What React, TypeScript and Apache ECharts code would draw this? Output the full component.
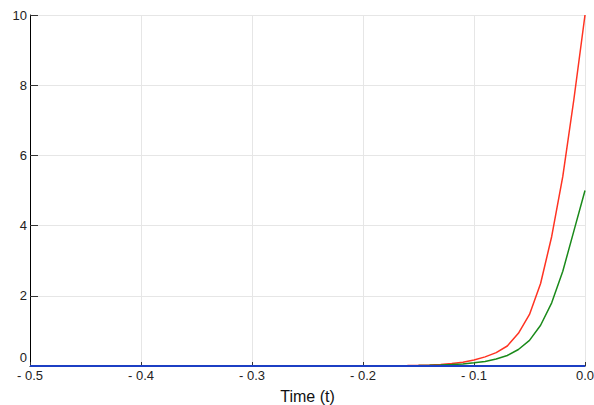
import React, { useEffect, useRef } from "react";
import * as echarts from "echarts";

const tValues: number[] = [
  -0.5, -0.49, -0.48, -0.47, -0.46, -0.45, -0.44, -0.43, -0.42, -0.41,
  -0.4, -0.39, -0.38, -0.37, -0.36, -0.35, -0.34, -0.33, -0.32, -0.31,
  -0.3, -0.29, -0.28, -0.27, -0.26, -0.25, -0.24, -0.23, -0.22, -0.21,
  -0.2, -0.19, -0.18, -0.17, -0.16, -0.15, -0.14, -0.13, -0.12, -0.11,
  -0.1, -0.09, -0.08, -0.07, -0.06, -0.05, -0.04, -0.03, -0.02, -0.01, 0,
];

const redValues: number[] = [
  0, 0, 0, 0, 0, 0, 0, 0, 0, 0,
  0, 0, 0, 0, 0, 0, 0, 0, 0, 0,
  0, 0, 0, 0, 0, 0, 0, 0, 0, 0,
  0.003, 0.004, 0.006, 0.009, 0.014, 0.02, 0.03, 0.045, 0.07, 0.11,
  0.17, 0.26, 0.38, 0.57, 0.93, 1.47, 2.35, 3.69, 5.4, 7.6, 10,
];

const greenValues: number[] = [
  0, 0, 0, 0, 0, 0, 0, 0, 0, 0,
  0, 0, 0, 0, 0, 0, 0, 0, 0, 0,
  0, 0, 0, 0, 0, 0, 0, 0, 0, 0,
  0.002, 0.003, 0.004, 0.006, 0.008, 0.012, 0.018, 0.027, 0.04, 0.06,
  0.09, 0.13, 0.2, 0.3, 0.47, 0.73, 1.16, 1.8, 2.7, 3.85, 5,
];

const blueValues: number[] = [
  0, 0, 0, 0, 0, 0, 0, 0, 0, 0,
  0, 0, 0, 0, 0, 0, 0, 0, 0, 0,
  0, 0, 0, 0, 0, 0, 0, 0, 0, 0,
  0, 0, 0, 0, 0, 0, 0, 0, 0, 0,
  0, 0, 0, 0, 0, 0, 0, 0, 0, 0, 0,
];

const xTickLabels: string[] = ["- 0.5", "- 0.4", "- 0.3", "- 0.2", "- 0.1", "0.0"];
const xAxisName = "Time (t)";

const FONT = "'Liberation Sans', Arial, sans-serif";

export default function App() {
  const ref = useRef<HTMLDivElement>(null);
  useEffect(() => {
    document.body.style.margin = "0";
    if (!ref.current) return;
    const chart = echarts.init(ref.current, undefined, { renderer: "svg" });
    const pair = (vals: number[]) => tValues.map((t, i) => [t, vals[i]]);
    chart.setOption({
      animation: false,
      backgroundColor: "#ffffff",
      grid: {
        left: 30,
        right: 9,
        top: 15,
        bottom: 39,
        containLabel: false,
        outerBoundsMode: "none",
      },
      xAxis: {
        type: "value",
        min: -0.5,
        max: 0,
        interval: 0.1,
        name: xAxisName,
        nameLocation: "middle",
        nameGap: 22,
        nameTextStyle: { fontSize: 16, color: "#111", fontFamily: FONT },
        axisLine: { show: true, onZero: false, lineStyle: { color: "#000", width: 1 } },
        axisTick: { show: true, inside: true, length: 4, lineStyle: { color: "#333" } },
        axisLabel: {
          color: "#222",
          fontSize: 13,
          fontFamily: FONT,
          margin: 3,
          showMaxLabel: true,
          showMinLabel: true,
          formatter: (v: number) => {
            const idx = Math.round((v + 0.5) / 0.1);
            return xTickLabels[idx] ?? "";
          },
        },
        splitLine: { show: true, lineStyle: { color: "#e6e6e6", width: 1 } },
      },
      yAxis: {
        type: "value",
        min: 0,
        max: 10,
        interval: 2,
        axisLine: { show: true, onZero: false, lineStyle: { color: "#000", width: 1 } },
        axisTick: { show: true, inside: true, length: 8, lineStyle: { color: "#333" } },
        axisLabel: {
          color: "#222",
          fontSize: 13,
          fontFamily: FONT,
          margin: 3,
          formatter: (v: number) => (v === 0 ? "{z|0}" : String(v)),
          rich: { z: { fontSize: 13, fontFamily: FONT, color: "#222", padding: [0, 0, 18, 0] } },
        },
        splitLine: { show: true, lineStyle: { color: "#e6e6e6", width: 1 } },
      },
      series: [
        {
          type: "line",
          data: pair(redValues),
          showSymbol: false,
          lineStyle: { color: "#ff3322", width: 1.5 },
          itemStyle: { color: "#ff3322" },
          z: 2,
        },
        {
          type: "line",
          data: pair(greenValues),
          showSymbol: false,
          lineStyle: { color: "#1a8a1a", width: 1.5 },
          itemStyle: { color: "#1a8a1a" },
          z: 3,
        },
        {
          type: "line",
          data: pair(blueValues),
          showSymbol: false,
          lineStyle: { color: "#1c3fc4", width: 2 },
          itemStyle: { color: "#1c3fc4" },
          z: 4,
        },
      ],
    });
    return () => chart.dispose();
  }, []);
  return <div ref={ref} style={{ width: 594, height: 405 }} />;
}
